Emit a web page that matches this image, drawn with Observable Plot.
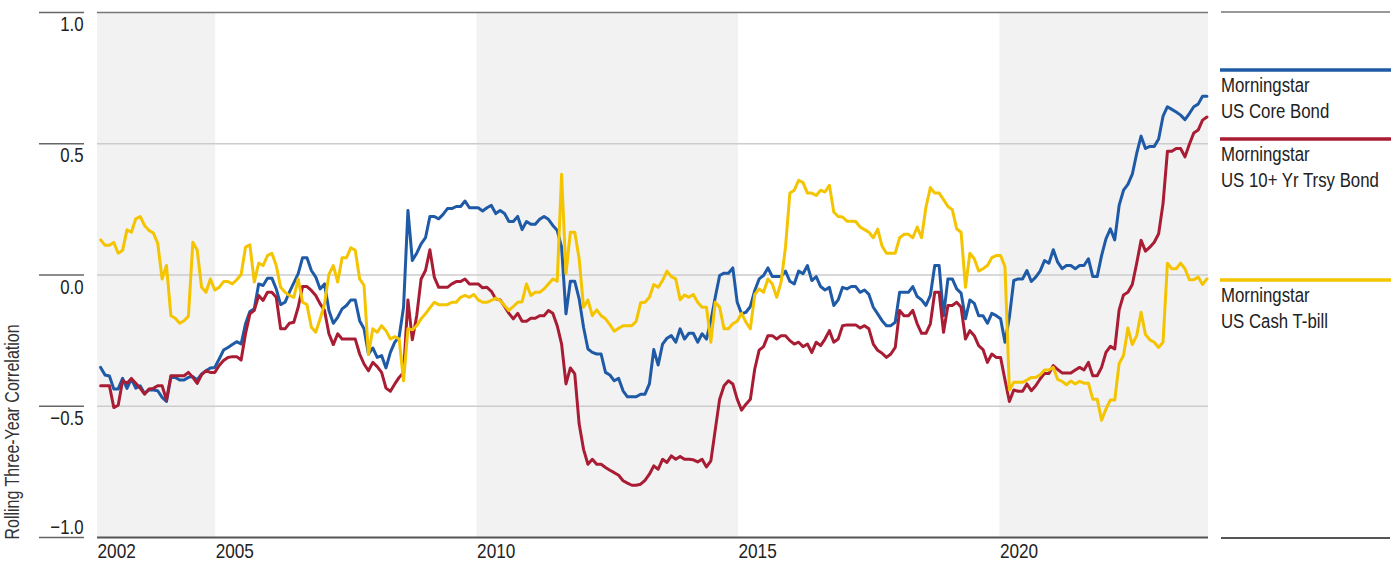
<!DOCTYPE html>
<html>
<head>
<meta charset="utf-8">
<script src="https://cdn.jsdelivr.net/npm/d3@7"></script>
<script src="https://cdn.jsdelivr.net/npm/@observablehq/plot@0.6"></script>
<style>
  html, body { margin: 0; padding: 0; background: #fff; }
  #wrap { position: relative; width: 1393px; height: 565px; }
  #legend { position: absolute; left: 0; top: 0; pointer-events: none; }
</style>
</head>
<body>
<div id="wrap"></div>
<script>
// ---- data (monthly rolling three-year correlations, first to last observation) ----
const firstObs = 2002.80;   // decimal year of first monthly observation
const lastObs = 2023.96;    // decimal year of last monthly observation
const frameStart = 2002.74;
const frameEnd = 2023.99;

const coreBond = [
-0.352,-0.381,-0.385,-0.434,-0.434,-0.394,-0.432,-0.396,-0.431,-0.422,
-0.451,-0.438,-0.438,-0.441,-0.466,-0.482,-0.390,-0.390,-0.400,-0.400,
-0.390,-0.387,-0.400,-0.377,-0.365,-0.354,-0.352,-0.320,-0.286,-0.276,
-0.265,-0.254,-0.263,-0.186,-0.139,-0.129,-0.034,-0.040,-0.012,-0.012,
-0.053,-0.113,-0.104,-0.065,-0.030,0.005,0.066,0.066,0.017,-0.008,
-0.053,-0.034,-0.135,-0.184,-0.161,-0.129,-0.116,-0.095,-0.095,-0.174,
-0.205,-0.301,-0.278,-0.314,-0.307,-0.354,-0.295,-0.256,-0.235,-0.123,
0.246,0.055,0.083,0.119,0.142,0.223,0.223,0.214,0.231,0.253,
0.253,0.261,0.261,0.282,0.256,0.256,0.256,0.244,0.256,0.265,
0.234,0.246,0.234,0.204,0.204,0.223,0.173,0.204,0.193,0.193,
0.212,0.223,0.212,0.189,0.170,0.106,-0.148,-0.024,-0.024,-0.091,
-0.199,-0.282,-0.295,-0.301,-0.301,-0.371,-0.381,-0.403,-0.394,-0.441,
-0.464,-0.464,-0.464,-0.454,-0.454,-0.415,-0.284,-0.343,-0.263,-0.241,
-0.231,-0.256,-0.205,-0.244,-0.222,-0.222,-0.256,-0.224,-0.244,-0.174,
-0.085,-0.002,0.007,0.007,0.027,-0.104,-0.148,-0.142,-0.120,-0.059,
-0.015,-0.002,0.027,-0.006,-0.006,-0.006,0.015,-0.024,-0.034,0.015,
0.005,0.036,-0.021,-0.006,-0.044,-0.057,-0.047,-0.116,-0.095,-0.047,
-0.053,-0.044,-0.044,-0.066,-0.057,-0.074,-0.123,-0.148,-0.174,-0.193,
-0.193,-0.180,-0.066,-0.066,-0.066,-0.044,-0.082,-0.095,-0.116,-0.078,
0.036,0.036,-0.155,-0.015,-0.015,-0.053,-0.069,-0.167,-0.095,-0.108,
-0.155,-0.155,-0.184,-0.146,-0.155,-0.167,-0.256,-0.161,-0.021,-0.015,
-0.015,0.017,-0.025,-0.008,0.015,0.055,0.045,0.096,0.049,0.024,
0.036,0.036,0.024,0.036,0.036,0.062,-0.006,-0.006,0.074,0.138,
0.176,0.134,0.265,0.323,0.345,0.384,0.463,0.529,0.482,0.490,
0.490,0.518,0.605,0.641,0.631,0.621,0.609,0.592,0.615,0.641,
0.651,0.681,0.681
];

const treasury10 = [
-0.422,-0.422,-0.422,-0.505,-0.496,-0.403,-0.412,-0.394,-0.412,-0.431,
-0.454,-0.434,-0.432,-0.422,-0.422,-0.476,-0.384,-0.384,-0.384,-0.384,
-0.371,-0.390,-0.413,-0.380,-0.365,-0.371,-0.371,-0.345,-0.326,-0.314,
-0.311,-0.311,-0.324,-0.224,-0.148,-0.135,-0.078,-0.097,-0.066,-0.066,
-0.085,-0.205,-0.205,-0.184,-0.180,-0.123,-0.044,-0.044,-0.059,-0.078,
-0.110,-0.135,-0.224,-0.265,-0.224,-0.244,-0.244,-0.244,-0.244,-0.301,
-0.339,-0.365,-0.333,-0.349,-0.371,-0.431,-0.443,-0.415,-0.390,-0.371,
-0.095,-0.247,-0.155,-0.015,0.017,0.096,-0.008,-0.047,-0.047,-0.047,
-0.034,-0.025,-0.025,-0.015,-0.034,-0.034,-0.034,-0.049,-0.047,-0.062,
-0.091,-0.095,-0.120,-0.146,-0.167,-0.146,-0.176,-0.176,-0.165,-0.165,
-0.155,-0.155,-0.135,-0.146,-0.193,-0.263,-0.415,-0.354,-0.377,-0.568,
-0.664,-0.721,-0.702,-0.721,-0.721,-0.733,-0.744,-0.753,-0.763,-0.784,
-0.793,-0.801,-0.801,-0.797,-0.782,-0.759,-0.727,-0.740,-0.702,-0.714,
-0.689,-0.702,-0.691,-0.702,-0.702,-0.704,-0.712,-0.702,-0.731,-0.708,
-0.590,-0.473,-0.422,-0.403,-0.415,-0.473,-0.515,-0.492,-0.473,-0.358,
-0.286,-0.273,-0.231,-0.231,-0.244,-0.231,-0.231,-0.250,-0.263,-0.256,
-0.273,-0.263,-0.295,-0.256,-0.269,-0.244,-0.212,-0.256,-0.244,-0.193,
-0.190,-0.190,-0.190,-0.202,-0.193,-0.205,-0.263,-0.287,-0.298,-0.314,
-0.301,-0.276,-0.135,-0.155,-0.155,-0.135,-0.186,-0.222,-0.222,-0.186,
-0.066,-0.066,-0.218,-0.116,-0.116,-0.104,-0.123,-0.244,-0.212,-0.231,
-0.269,-0.284,-0.333,-0.301,-0.314,-0.314,-0.400,-0.482,-0.438,-0.443,
-0.443,-0.415,-0.441,-0.422,-0.396,-0.375,-0.375,-0.345,-0.360,-0.373,
-0.373,-0.373,-0.362,-0.352,-0.362,-0.333,-0.384,-0.384,-0.352,-0.295,
-0.272,-0.282,-0.133,-0.076,-0.066,-0.036,0.045,0.132,0.091,0.106,
0.125,0.157,0.272,0.471,0.471,0.482,0.482,0.450,0.498,0.541,
0.552,0.590,0.602
];

const tbill = [
0.134,0.113,0.113,0.124,0.083,0.094,0.172,0.163,0.214,0.223,
0.189,0.170,0.160,0.121,-0.015,0.036,-0.155,-0.165,-0.184,-0.174,
-0.157,0.125,0.094,-0.047,-0.066,-0.015,-0.057,-0.047,-0.025,-0.025,
-0.034,-0.018,0.002,0.106,0.115,-0.027,0.045,0.036,0.074,0.083,
0.036,-0.047,-0.066,-0.078,-0.085,-0.015,-0.104,-0.113,-0.199,-0.218,
-0.167,-0.110,0.002,0.036,-0.027,0.066,0.066,0.104,0.094,-0.015,
-0.040,-0.303,-0.205,-0.218,-0.193,-0.212,-0.244,-0.235,-0.244,-0.403,
-0.205,-0.209,-0.193,-0.167,-0.148,-0.125,-0.104,-0.113,-0.113,-0.113,
-0.104,-0.104,-0.085,-0.078,-0.085,-0.074,-0.095,-0.104,-0.104,-0.097,
-0.088,-0.097,-0.116,-0.135,-0.120,-0.104,-0.102,-0.034,-0.078,-0.066,
-0.066,-0.053,-0.034,-0.015,-0.024,0.384,0.005,0.163,0.163,0.062,
-0.123,-0.095,-0.155,-0.133,-0.155,-0.167,-0.189,-0.214,-0.203,-0.193,
-0.193,-0.193,-0.176,-0.106,-0.104,-0.085,-0.036,-0.047,-0.021,0.015,
-0.006,-0.015,-0.094,-0.076,-0.085,-0.074,-0.104,-0.123,-0.123,-0.256,
-0.104,-0.123,-0.205,-0.205,-0.186,-0.176,-0.146,-0.180,-0.205,-0.074,
-0.053,-0.066,-0.015,-0.034,-0.085,-0.027,0.106,0.312,0.323,0.361,
0.352,0.312,0.312,0.303,0.323,0.316,0.342,0.240,0.223,0.221,
0.205,0.205,0.204,0.183,0.173,0.163,0.142,0.175,0.110,0.083,
0.083,0.083,0.142,0.155,0.155,0.142,0.183,0.142,0.259,0.333,
0.312,0.312,0.287,0.261,0.249,0.176,0.163,-0.047,0.083,0.062,
0.015,0.024,0.036,0.066,0.074,0.074,0.032,-0.438,-0.409,-0.409,
-0.409,-0.400,-0.390,-0.390,-0.380,-0.362,-0.362,-0.352,-0.398,-0.405,
-0.418,-0.404,-0.415,-0.405,-0.412,-0.412,-0.473,-0.473,-0.553,-0.511,
-0.476,-0.476,-0.337,-0.307,-0.202,-0.265,-0.231,-0.142,-0.227,-0.247,
-0.256,-0.276,-0.256,0.045,0.024,0.024,0.045,0.024,-0.018,-0.018,
-0.008,-0.036,-0.015
];

const seriesNames = ["Morningstar US Core Bond", "Morningstar US 10+ Yr Trsy Bond", "Morningstar US Cash T-bill"];
const legendLines = [["Morningstar", "US Core Bond"], ["Morningstar", "US 10+ Yr Trsy Bond"], ["Morningstar", "US Cash T-bill"]];
const seriesColors = ["#1f5aa6", "#a81c34", "#f5c400"];

const shadedBands = [[frameStart, 2005], [2010, 2015], [2020, frameEnd]];
const xTicks = [frameStart, 2005, 2010, 2015, 2020];
const xTickLabels = ["2002", "2005", "2010", "2015", "2020"];
const yTicks = [1, 0.5, 0, -0.5, -1];
const yGrid = [0.5, 0, -0.5];
const yTitle = "Rolling Three-Year Correlation";

// ---- build table ----
const n = coreBond.length;
const step = (lastObs - firstObs) / (n - 1);
const seriesValues = [coreBond, treasury10, tbill];
const rows = [];
seriesValues.forEach((vals, s) => {
  vals.forEach((v, i) => rows.push({series: seriesNames[s], t: firstObs + i * step, value: v}));
});

const FONT = '"Liberation Sans", Arial, sans-serif';
const SQUEEZE = 0.82; // condensed look
const fmt = d => d3.format(".1f")(d).replace("-", "\u2212");

const chart = Plot.plot({
  width: 1393,
  height: 565,
  marginLeft: 97,
  marginRight: 185,
  marginTop: 12,
  marginBottom: 28,
  style: {fontFamily: FONT, background: "#fff", color: "#222"},
  x: {type: "linear", domain: [frameStart, frameEnd], label: null},
  y: {domain: [-1, 1], label: null},
  marks: [
    Plot.rect(shadedBands, {x1: d => d[0], x2: d => d[1], y1: -1, y2: 1, fill: "#f2f2f2"}),
    Plot.ruleY(yGrid, {stroke: "#cccccc", strokeWidth: 1.5}),
    Plot.ruleY([1], {stroke: "#777", strokeWidth: 1.5}),
    Plot.ruleY([-1], {stroke: "#555", strokeWidth: 2}),
    Plot.axisY(yTicks, {tickSize: 45, dx: -13, tickFormat: () => "", stroke: "#666", strokeWidth: 1.5, label: null}),
    Plot.axisY(yTicks.slice(0, 4), {tickSize: 0, tickPadding: 14, dy: 12, fontSize: 20.5, tickFormat: fmt, fill: "#222", label: null}),
    Plot.axisY(yTicks.slice(4), {tickSize: 0, tickPadding: 14, dy: -10, fontSize: 20.5, tickFormat: fmt, fill: "#222", label: null}),
    Plot.axisX(xTicks, {tickSize: 0, tickPadding: 6, fontSize: 21, textAnchor: "start", fill: "#222",
      tickFormat: d => xTickLabels[xTicks.indexOf(d)], label: null}),
    Plot.text([yTitle], {frameAnchor: "bottom-left", rotate: -90, textAnchor: "start", dx: -79, dy: 2, fontSize: 19.5, fill: "#333"}),
    ...seriesNames.map((name, s) =>
      Plot.line(rows.filter(r => r.series === name), {x: "t", y: "value", stroke: seriesColors[s], strokeWidth: 3, strokeLinejoin: "round", curve: "linear"})
    )
  ]
});

// squeeze every text horizontally around its own anchor to mimic a condensed face
chart.querySelectorAll("text").forEach(t => {
  const x = t.getAttribute("x"), y = t.getAttribute("y");
  let tr = t.getAttribute("transform") || "";
  const numX = x != null && !isNaN(+x), numY = y != null && !isNaN(+y);
  if (numX || numY) {
    tr += ` translate(${numX ? +x : 0},${numY ? +y : 0})`;
    if (numX) t.removeAttribute("x");
    if (numY) t.removeAttribute("y");
  }
  t.setAttribute("transform", (tr + ` scale(${SQUEEZE},1)`).trim());
});

const wrap = document.getElementById("wrap");
wrap.appendChild(chart);

// ---- legend at the right ----
const legendY = [70, 139, 280];
const svg = d3.select(wrap).append("svg").attr("id", "legend").attr("width", 1393).attr("height", 565);
svg.append("line").attr("x1", 1221).attr("x2", 1390).attr("y1", 12).attr("y2", 12).attr("stroke", "#777").attr("stroke-width", 1.5);
svg.append("line").attr("x1", 1221).attr("x2", 1390).attr("y1", 538).attr("y2", 538).attr("stroke", "#555").attr("stroke-width", 2);
legendLines.forEach((lines, s) => {
  const y = legendY[s];
  svg.append("line").attr("x1", 1220).attr("x2", 1391).attr("y1", y).attr("y2", y)
    .attr("stroke", seriesColors[s]).attr("stroke-width", 3.5);
  lines.forEach((txt, j) => {
    svg.append("text")
      .attr("transform", `translate(1221,${y + 22 + j * 26}) scale(0.8,1)`)
      .attr("font-family", FONT).attr("font-size", 21).attr("fill", "#222").text(txt);
  });
});
</script>
</body>
</html>
